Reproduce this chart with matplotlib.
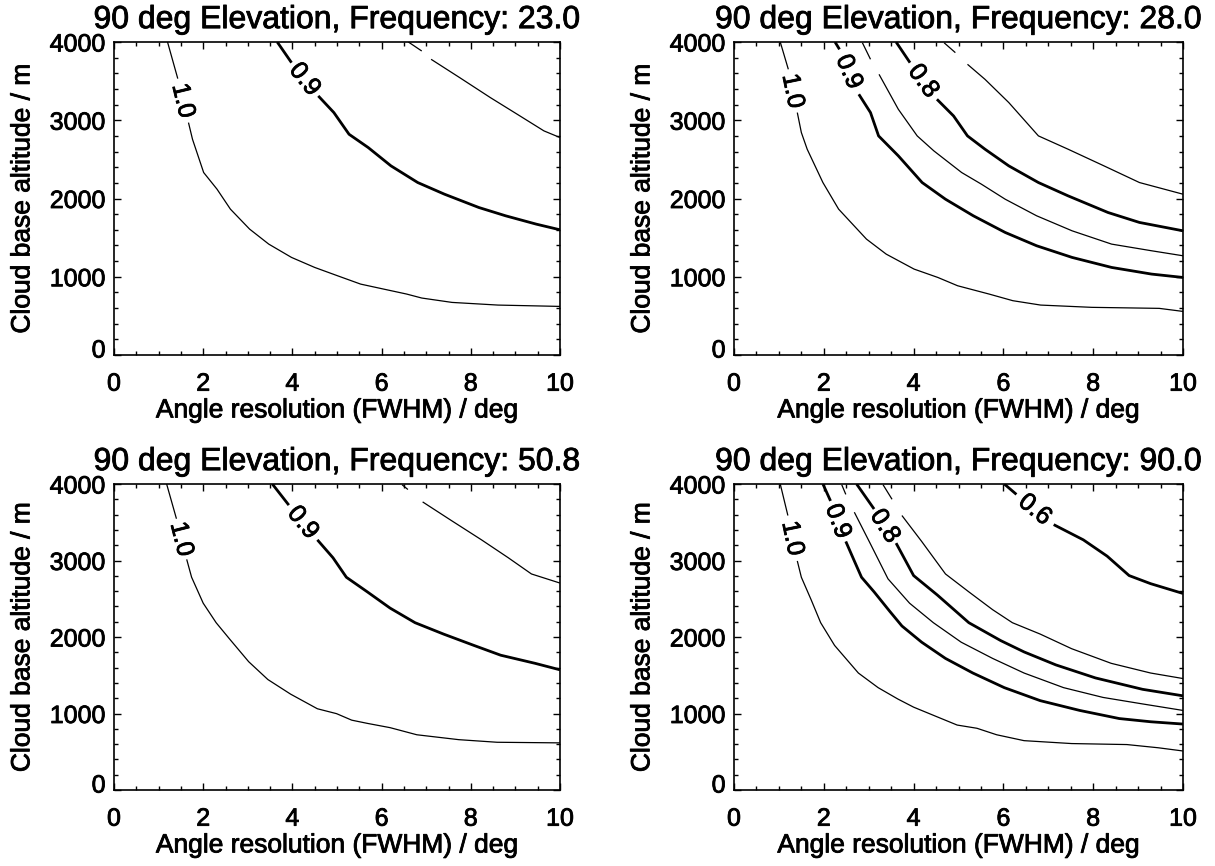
import numpy as np
import matplotlib
matplotlib.use("Agg")
import matplotlib.pyplot as plt
import matplotlib.patheffects as pe
import matplotlib.transforms as mtransforms
from matplotlib.ticker import MultipleLocator, FixedLocator

plt.rcParams['font.family'] = ['Liberation Sans', 'DejaVu Sans']
# IDL's Helvetica looks a bit heavier than Liberation regular
heavy = [pe.withStroke(linewidth=0.6, foreground='black')]

# --- contour lines ----------------------------------------------------
# every line: x (deg), y (m), and gap = index where the label gap starts
# 23.0 GHz
f23_a_x = [1.20, 1.43, 1.67, 1.76, 2.01, 2.31, 2.61, 3.04, 3.47, 3.98, 4.50, 5.01, 5.53, 6.04, 6.56, 6.90, 7.58, 8.61, 10.0]
f23_a_y = [4000, 3532, 2970, 2757, 2332, 2119, 1864, 1609, 1417, 1247, 1119, 1013, 906, 843, 779, 728, 672, 638, 621]
f23_a_gap = 2
f23_b_x = [3.66, 3.98, 4.58, 4.93, 5.27, 5.70, 6.21, 6.81, 7.41, 8.18, 8.78, 9.47, 10.0]
f23_b_y = [4000, 3736, 3311, 3098, 2821, 2651, 2417, 2204, 2055, 1885, 1779, 1672, 1600]
f23_b_gap = 2
f23_c_x = [6.60, 6.90, 7.11, 7.75, 8.44, 9.04, 9.64, 10.0]
f23_c_y = [4000, 3885, 3779, 3545, 3289, 3077, 2864, 2779]
f23_c_gap = 2

# 28.0 GHz
f28_a_x = [1.03, 1.21, 1.41, 1.50, 1.63, 1.98, 2.33, 2.95, 3.39, 4.01, 4.54, 4.98, 5.68, 6.21, 6.83, 7.97, 9.47, 10.0]
f28_a_y = [4000, 3651, 3098, 2843, 2630, 2204, 1864, 1481, 1289, 1098, 991, 885, 779, 694, 638, 609, 596, 557]
f28_a_gap = 2
f28_b_x = [2.25, 2.35, 2.78, 3.04, 3.22, 3.66, 4.19, 4.71, 5.33, 6.04, 6.74, 7.53, 8.41, 9.30, 10.0]
f28_b_y = [4000, 3906, 3332, 3098, 2800, 2545, 2204, 1991, 1779, 1566, 1396, 1247, 1119, 1034, 991]
f28_b_gap = 2
f28_c_x = [2.86, 3.04, 3.23, 3.66, 4.08, 4.45, 5.07, 5.51, 6.04, 6.74, 7.53, 8.41, 9.30, 10.0]
f28_c_y = [3990, 3779, 3587, 3140, 2800, 2609, 2332, 2183, 1991, 1779, 1587, 1417, 1332, 1268]
f28_c_gap = 2
f28_d_x = [3.61, 3.92, 4.52, 4.89, 5.20, 5.59, 6.12, 6.78, 7.44, 8.33, 9.03, 10.0]
f28_d_y = [4000, 3736, 3268, 3055, 2800, 2630, 2417, 2204, 2034, 1821, 1694, 1587]
f28_d_gap = 2
f28_e_x = [4.68, 4.93, 5.20, 5.59, 6.12, 6.78, 7.44, 8.24, 9.03, 10.0]
f28_e_y = [3990, 3864, 3715, 3523, 3226, 2800, 2630, 2417, 2204, 2055]
f28_e_gap = 2

# 50.8 GHz
f50_a_x = [1.18, 1.40, 1.63, 1.74, 2.00, 2.29, 2.59, 3.02, 3.45, 3.96, 4.56, 4.99, 5.33, 5.68, 6.19, 6.79, 7.73, 8.59, 10.0]
f50_a_y = [4000, 3546, 3015, 2781, 2442, 2187, 1975, 1677, 1444, 1253, 1062, 998, 913, 871, 815, 722, 658, 624, 616]
f50_a_gap = 2
f50_b_x = [3.55, 3.92, 4.56, 4.91, 5.21, 5.68, 6.19, 6.75, 7.39, 8.07, 8.67, 9.44, 10.0]
f50_b_y = [4000, 3724, 3270, 3036, 2781, 2590, 2378, 2187, 2038, 1890, 1762, 1656, 1571]
f50_b_gap = 2
f50_c_x = [6.46, 6.59, 6.92, 7.56, 8.24, 8.84, 9.36, 10.0]
f50_c_y = [3990, 3928, 3766, 3524, 3270, 3036, 2824, 2705]
f50_c_gap = 2

# 90.0 GHz
f90_a_x = [1.03, 1.20, 1.41, 1.50, 1.72, 1.93, 2.24, 2.77, 3.21, 3.65, 4.00, 4.53, 4.97, 5.41, 5.85, 6.46, 7.52, 8.75, 9.45, 10.0]
f90_a_y = [4000, 3588, 2994, 2781, 2484, 2187, 1890, 1529, 1338, 1189, 1083, 955, 849, 807, 722, 645, 607, 594, 552, 510]
f90_a_gap = 2
f90_b_x = [1.98, 2.15, 2.49, 2.68, 2.84, 3.12, 3.47, 3.74, 4.18, 4.71, 5.32, 6.02, 6.82, 7.70, 8.58, 9.28, 10.0]
f90_b_y = [4000, 3779, 3249, 2994, 2781, 2590, 2335, 2144, 1932, 1720, 1529, 1338, 1168, 1040, 934, 892, 862]
f90_b_gap = 2
f90_c_x = [2.40, 2.49, 2.68, 3.03, 3.43, 3.91, 4.44, 5.06, 5.76, 6.46, 7.34, 8.22, 9.10, 10.0]
f90_c_y = [3990, 3864, 3631, 3227, 2760, 2442, 2187, 1932, 1720, 1529, 1338, 1210, 1125, 1040]
f90_c_gap = 2
f90_d_x = [2.73, 3.12, 3.61, 4.00, 4.53, 5.23, 5.94, 6.46, 7.17, 8.05, 9.10, 10.0]
f90_d_y = [4000, 3673, 3227, 2803, 2548, 2187, 1953, 1805, 1635, 1465, 1316, 1231]
f90_d_gap = 2
f90_e_x = [3.32, 3.52, 3.74, 4.18, 4.71, 5.23, 5.76, 6.20, 6.82, 7.52, 8.40, 9.28, 10.0]
f90_e_y = [3990, 3800, 3588, 3249, 2824, 2590, 2357, 2187, 2038, 1847, 1656, 1529, 1457]
f90_e_gap = 2
f90_f_x = [6.02, 6.29, 7.12, 7.78, 8.31, 8.80, 9.28, 10.0]
f90_f_y = [4000, 3864, 3469, 3270, 3057, 2803, 2697, 2569]
f90_f_gap = 2

frequencies = ["23.0", "28.0", "50.8", "90.0"]
y_ticks = [0, 1000, 2000, 3000, 4000]
panel_lines = [
    [(f23_a_x, f23_a_y, f23_a_gap, "1.0"), (f23_b_x, f23_b_y, f23_b_gap, "0.9"),
     (f23_c_x, f23_c_y, f23_c_gap, "")],
    [(f28_a_x, f28_a_y, f28_a_gap, "1.0"), (f28_b_x, f28_b_y, f28_b_gap, "0.9"),
     (f28_c_x, f28_c_y, f28_c_gap, ""), (f28_d_x, f28_d_y, f28_d_gap, "0.8"),
     (f28_e_x, f28_e_y, f28_e_gap, "")],
    [(f50_a_x, f50_a_y, f50_a_gap, "1.0"), (f50_b_x, f50_b_y, f50_b_gap, "0.9"),
     (f50_c_x, f50_c_y, f50_c_gap, "")],
    [(f90_a_x, f90_a_y, f90_a_gap, "1.0"), (f90_b_x, f90_b_y, f90_b_gap, "0.9"),
     (f90_c_x, f90_c_y, f90_c_gap, ""), (f90_d_x, f90_d_y, f90_d_gap, "0.8"),
     (f90_e_x, f90_e_y, f90_e_gap, ""), (f90_f_x, f90_f_y, f90_f_gap, "0.6")],
]
thick_labels = ["0.9", "0.8", "0.6"]

fig = plt.figure(figsize=(12.15, 8.66), dpi=100)
W, H = 1215.0, 866.0
# axes boxes in pixels (left, top, right, bottom)
boxes = [(114, 42, 560, 355), (734, 42, 1183, 355),
         (114, 484, 560, 790), (734, 484, 1183, 790)]
lift = mtransforms.ScaledTranslation(0, 5 / 72, fig.dpi_scale_trans)

for k in range(4):
    l, t, r, b = boxes[k]
    ax = fig.add_axes([l / W, 1 - b / H, (r - l) / W, (b - t) / H])
    ax.set_xlim(0, 10)
    ax.set_ylim(0, 4000)
    ax.xaxis.set_major_locator(MultipleLocator(2))
    ax.xaxis.set_minor_locator(MultipleLocator(0.5))
    ax.yaxis.set_major_locator(FixedLocator(y_ticks))
    ax.yaxis.set_minor_locator(MultipleLocator(200))
    ax.tick_params(which='both', direction='in', top=True, right=True, width=1.0)
    ax.tick_params(which='major', length=5, labelsize=18)
    ax.tick_params(which='minor', length=3)
    ax.tick_params(axis='x', pad=12)
    ax.tick_params(axis='y', pad=6)
    for s in ax.spines.values():
        s.set_linewidth(1.2)
    ax.set_title("90 deg Elevation, Frequency: " + frequencies[k], fontsize=23, pad=10,
                 path_effects=heavy)
    ax.set_xlabel("Angle resolution (FWHM) / deg", fontsize=19, labelpad=2,
                  path_effects=heavy)
    ax.set_ylabel("Cloud base altitude / m", fontsize=19, labelpad=11,
                  path_effects=heavy)
    for lbl in ax.get_xticklabels() + ax.get_yticklabels():
        lbl.set_path_effects(heavy)
    # the "0" on the y axis sits a little above the x axis, like IDL draws it
    zero = ax.yaxis.get_major_ticks()[0].label1
    zero.set_transform(zero.get_transform() + lift)

    for xs, ys, gap, lab in panel_lines[k]:
        lw = 2.0 if lab in thick_labels else 0.9
        ax.plot(xs[:gap], ys[:gap], color='black', lw=lw, solid_capstyle='butt')
        ax.plot(xs[gap:], ys[gap:], color='black', lw=lw, solid_capstyle='butt')
        if lab:
            p0 = ax.transData.transform((xs[gap - 1], ys[gap - 1]))
            p1 = ax.transData.transform((xs[gap], ys[gap]))
            ang = np.degrees(np.arctan2(p1[1] - p0[1], p1[0] - p0[0]))
            ax.text((xs[gap - 1] + xs[gap]) / 2, (ys[gap - 1] + ys[gap]) / 2, lab,
                    fontsize=18, rotation=ang, rotation_mode='anchor',
                    ha='center', va='center', path_effects=heavy)

fig.savefig("out.png", dpi=100)
